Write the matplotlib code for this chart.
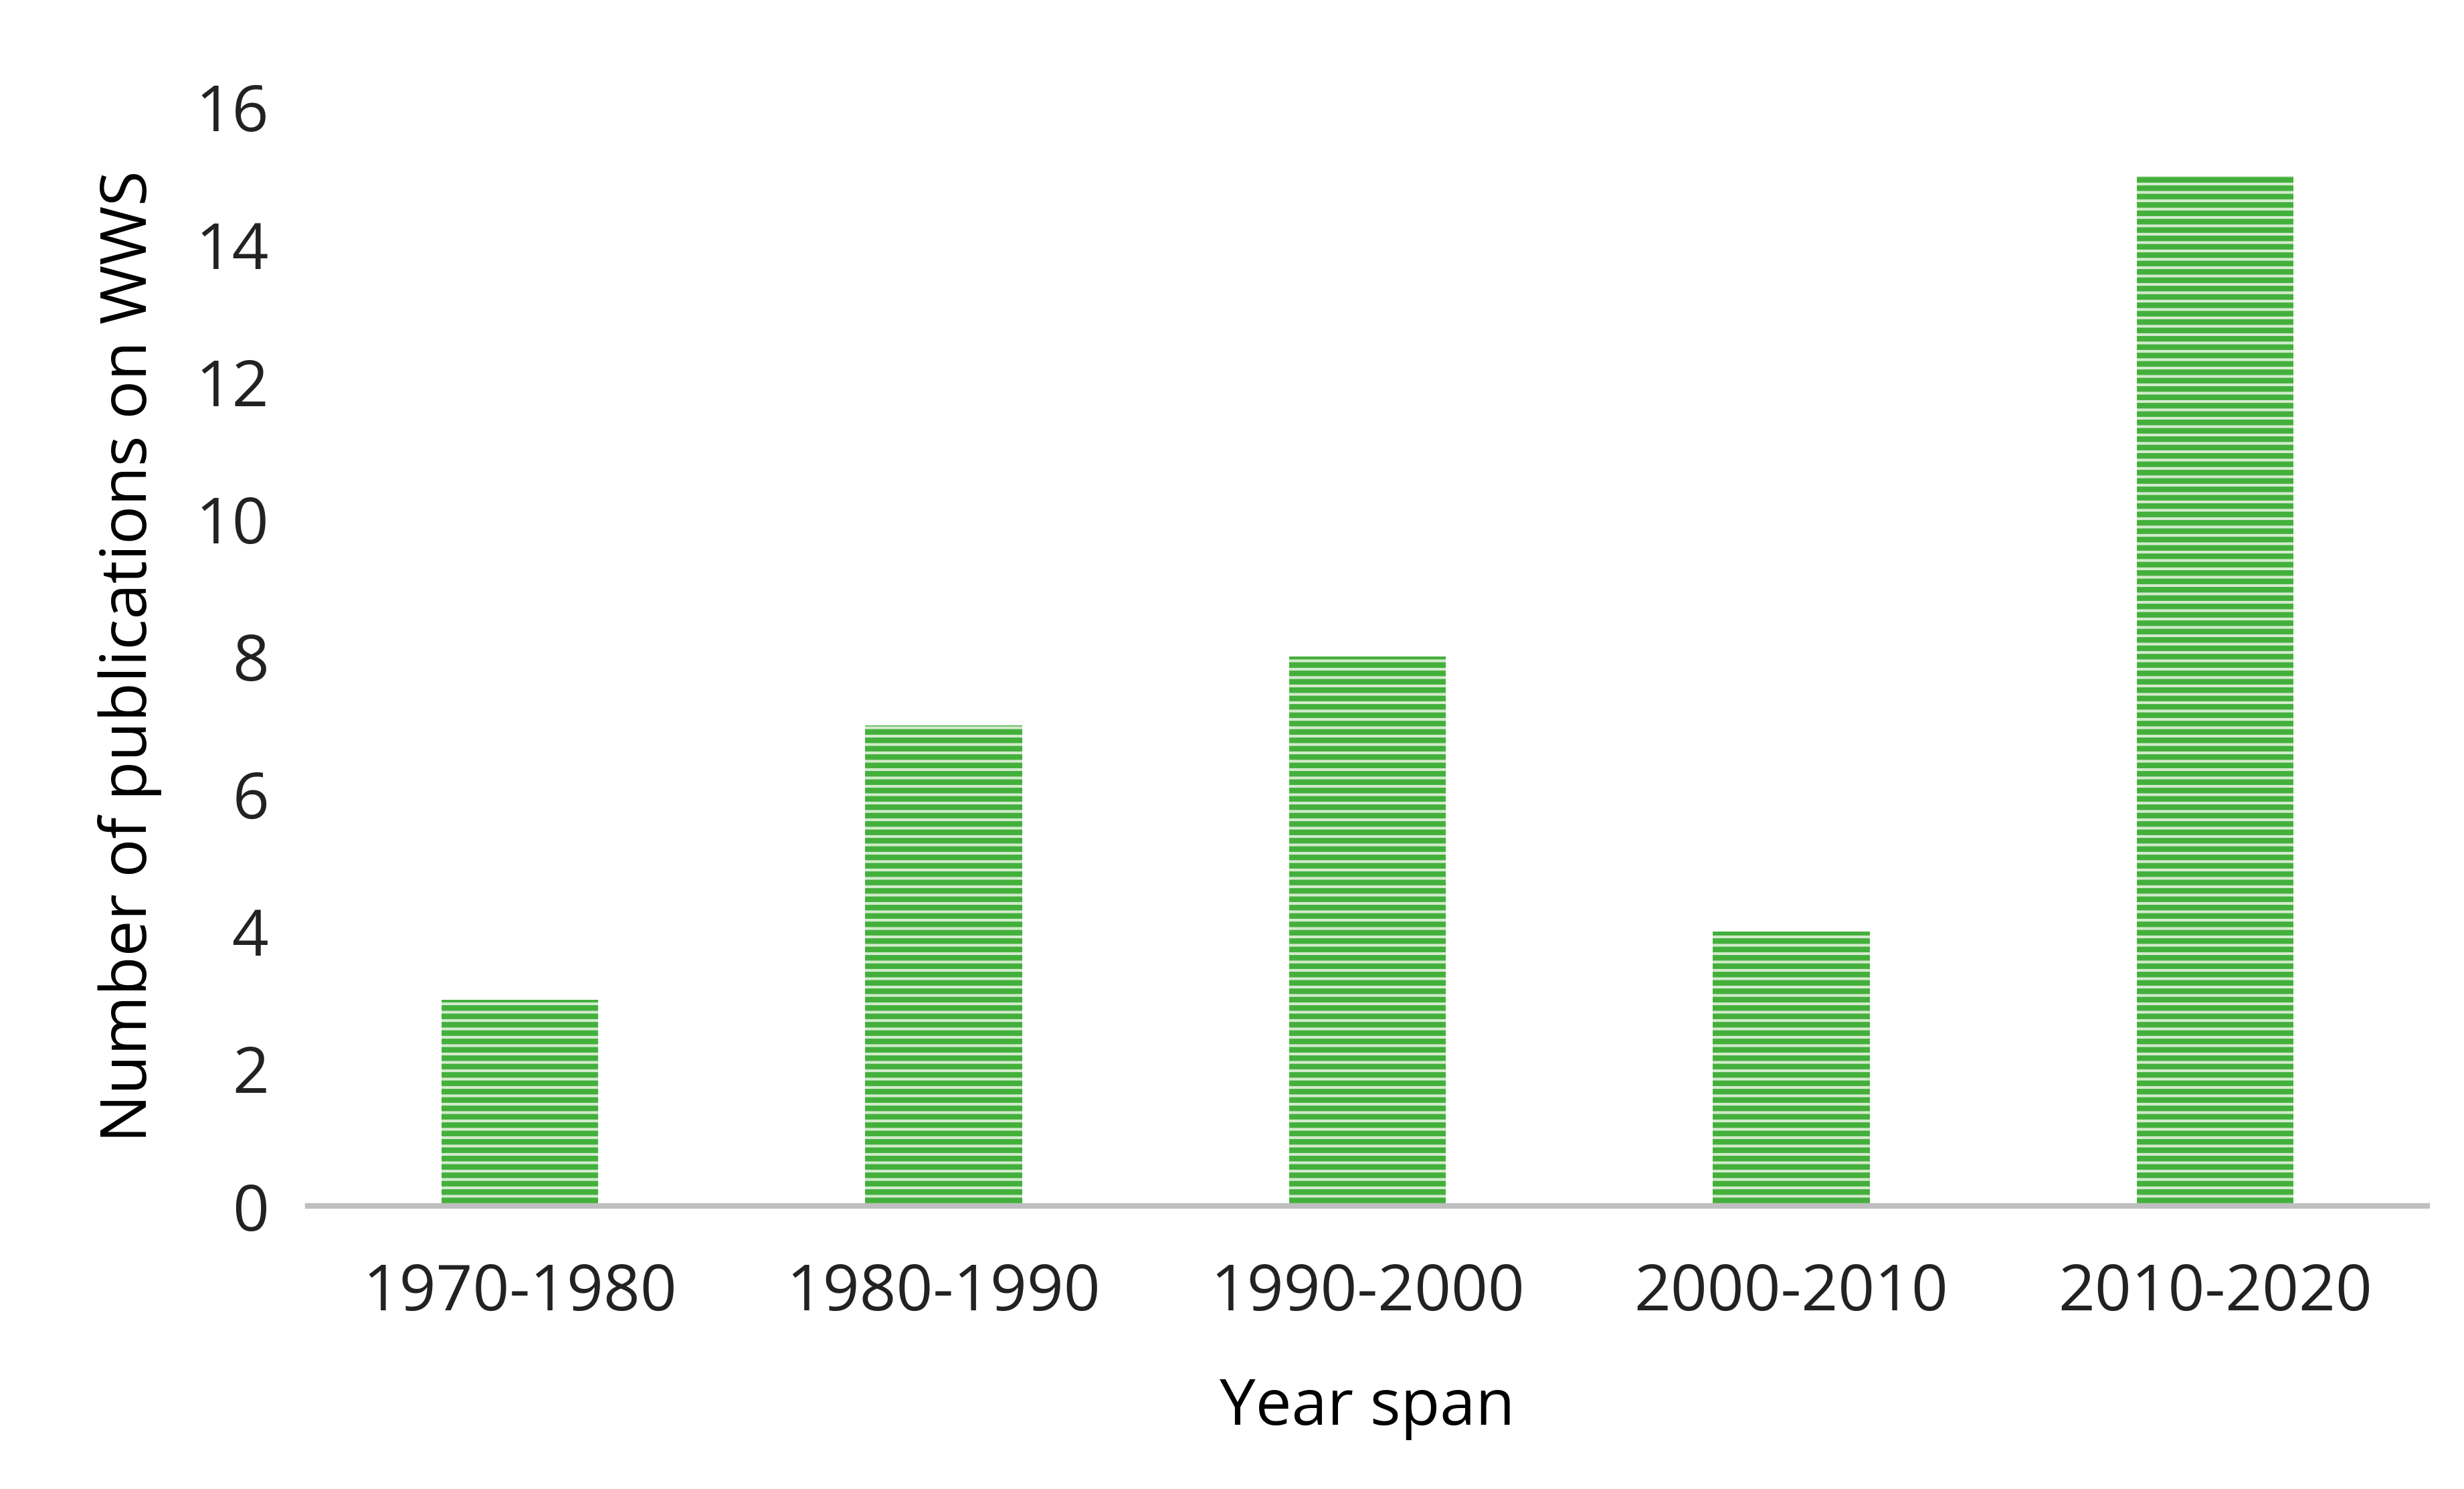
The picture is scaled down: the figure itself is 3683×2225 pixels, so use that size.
import matplotlib.pyplot as plt
import matplotlib as mpl

spans = ['1970-1980', '1980-1990', '1990-2000', '2000-2010', '2010-2020']
counts = [3, 7, 8, 4, 15]

plt.rcParams['font.family'] = ['Open Sans', 'DejaVu Sans']
mpl.rcParams['hatch.linewidth'] = 2.0

fig = plt.figure(figsize=(3683 / 300, 2225 / 300), dpi=300)
ax = fig.add_axes([0.125, 0.19, 0.86, 0.738])

ax.bar(spans, counts, width=0.37, color='#d3ebcd', edgecolor='#44b03c',
       hatch='----', linewidth=0)

ax.set_ylim(0, 16)
ax.set_xlim(-0.5, 4.5)
ax.set_yticks(range(0, 17, 2))
for s in ['top', 'right', 'left']:
    ax.spines[s].set_visible(False)
ax.spines['bottom'].set_color('#bfbfbf')
ax.spines['bottom'].set_linewidth(2)
ax.tick_params(axis='both', length=0, labelsize=23, colors='#222222')
ax.tick_params(axis='x', pad=20)
ax.tick_params(axis='y', pad=14)
ax.set_xlabel('Year span', fontsize=23, labelpad=18)
ax.set_ylabel('Number of publications on WWS', fontsize=23, labelpad=12)

fig.savefig('out.png', dpi=300)
